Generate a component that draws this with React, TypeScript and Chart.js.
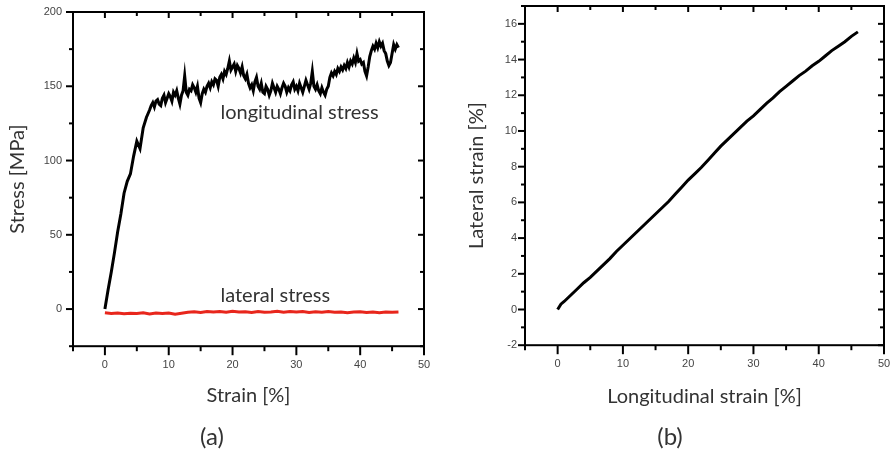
import React, { useEffect, useRef } from "react";
import { Chart, registerables } from "chart.js";
Chart.register(...registerables);

// ---------- (a) stress vs strain ----------
const longStrain = [0,0.5,1,1.5,2,2.5,3,3.5,4,4.5,5,5.5,6,6.5,
  7,7.25,7.5,7.75,8,8.25,8.5,8.75,9,9.25,9.5,9.75,10,10.25,10.5,10.75,
  11,11.25,11.5,11.75,12,12.25,12.5,12.75,13,13.25,13.5,13.75,14,14.25,14.5,14.75,
  15,15.25,15.5,15.75,16,16.25,16.5,16.75,17,17.25,17.5,17.75,18,18.25,18.5,18.75,
  19,19.25,19.5,19.75,20,20.25,20.5,20.75,21,21.25,21.5,21.75,22,22.25,22.5,22.75,
  23,23.25,23.5,23.75,24,24.25,24.5,24.75,25,25.25,25.5,25.75,26,26.25,26.5,26.75,
  27,27.25,27.5,27.75,28,28.25,28.5,28.75,29,29.25,29.5,29.75,30,30.25,30.5,30.75,
  31,31.25,31.5,31.75,32,32.25,32.5,32.75,33,33.25,33.5,33.75,34,34.25,34.5,34.75,
  35,35.25,35.5,35.75,36,36.25,36.5,36.75,37,37.25,37.5,37.75,38,38.25,38.5,38.75,
  39,39.25,39.5,39.75,40,40.25,40.5,40.75,41,41.25,41.5,41.75,42,42.25,42.5,42.75,
  43,43.25,43.5,43.75,44,44.25,44.5,44.75,45,45.25,45.5,45.75,46];
const longStress = [0,13,25,38,52,64,78,86,91,103,113,108,122,129,
  134,137,139,136,140,141,138,137,142,144,139,142,145,143,140,146,
  144,147,142,138,144,147,157,146,144,148,147,151,149,146,150,142,
  139,145,148,146,150,152,149,153,151,155,154,150,156,158,155,160,
  158,162,167,161,163,165,160,164,162,159,163,157,155,158,152,149,
  151,147,153,156,150,148,152,146,145,150,148,144,147,152,149,146,
  150,148,145,149,152,150,146,149,147,151,153,148,150,147,152,149,
  146,150,154,151,148,152,160,150,148,151,147,145,149,146,144,148,
  150,156,159,157,160,158,162,160,163,161,164,162,166,163,167,165,
  169,166,172,167,168,165,166,160,157,163,170,174,177,175,179,176,
  180,177,179,174,172,167,164,166,172,178,175,178,176];
const latStrainA = [0,1,2,3,4,5,6,7,8,9,10,11,12,13,14,15,16,17,18,19,20,21,22,23,24,25,26,27,28,29,30,31,32,33,34,35,36,37,38,39,40,41,42,43,44,45,46];
const latStress = [-2.5,-3,-2.6,-3.2,-2.8,-3,-2.5,-3.3,-2.7,-3,
  -2.6,-3.4,-2.8,-2.2,-1.8,-2.3,-1.6,-2,-1.7,-2.2,
  -1.5,-2,-1.8,-2.3,-1.6,-2.1,-1.9,-1.5,-2.2,-1.7,
  -2,-1.6,-2.3,-1.8,-2.1,-1.6,-2.2,-1.9,-2.4,-2,
  -1.8,-2.3,-2,-2.4,-1.9,-2.2,-2];

// ---------- (b) lateral vs longitudinal strain ----------
const longStrainB = [0,0.5,1,2,3,4,5,6,7,8,9,10,11,12,13,14,15,16,17,18,19,20,21,22,23,24,25,26,27,28,29,30,31,32,33,34,35,36,37,38,39,40,41,42,43,44,45,46];
const latStrainB = [0,0.3,0.45,0.8,1.15,1.5,1.8,2.15,2.5,2.85,3.25,3.6,3.95,4.3,4.65,5.0,5.35,5.7,6.05,6.45,6.85,7.25,7.6,7.95,8.35,8.75,9.15,9.5,9.85,10.2,10.55,10.85,11.2,11.55,11.85,12.2,12.5,12.8,13.1,13.35,13.65,13.9,14.2,14.5,14.75,15.0,15.3,15.55];

// ---------- ticks ----------
const xMajorA = [0, 10, 20, 30, 40, 50];
const xMinorA = [-5, 5, 15, 25, 35, 45];
const yMajorA = [0, 50, 100, 150, 200];
const yMinorA = [-25, 25, 75, 125, 175];
const xMajorB = [0, 10, 20, 30, 40, 50];
const xMinorB = [-5, 5, 15, 25, 35, 45];
const yMajorB = [-2, 0, 2, 4, 6, 8, 10, 12, 14, 16];
const yMinorB = [-1, 1, 3, 5, 7, 9, 11, 13, 15, 17];

// ---------- annotations in (a) ----------
const annotTextA = ["longitudinal stress", "lateral stress"];
const annotXA = [18.1, 18.1];
const annotYA = [132.6, 9.4];

const TITLE_FONT = "Lato, 'Open Sans', sans-serif";
const TICK_FONT = "'Liberation Sans', Arial, sans-serif";

function framePlugin(xMajor: number[], xMinor: number[], yMajor: number[], yMinor: number[]) {
  return {
    id: "frameTicks",
    afterDraw(chart: any) {
      const { ctx, chartArea: a, scales } = chart;
      const xs = scales.x, ys = scales.y;
      ctx.save();
      ctx.strokeStyle = "#000";
      ctx.lineWidth = 2;
      ctx.strokeRect(a.left, a.top, a.right - a.left, a.bottom - a.top);
      const line = (x1: number, y1: number, x2: number, y2: number) => {
        ctx.beginPath(); ctx.moveTo(x1, y1); ctx.lineTo(x2, y2); ctx.stroke();
      };
      const xt = (vals: number[], out: number, inn: number) => vals.forEach((v) => {
        const p = xs.getPixelForValue(v);
        line(p, a.bottom, p, a.bottom + out);
        line(p, a.top, p, a.top + inn);
      });
      xt(xMajor, 9, 6); xt(xMinor, 5, 4);
      const yt = (vals: number[], out: number, inn: number) => vals.forEach((v) => {
        const p = ys.getPixelForValue(v);
        line(a.left, p, a.left - out, p);
        line(a.right, p, a.right - inn, p);
      });
      yt(yMajor, 7, 6); yt(yMinor, 4, 4);
      ctx.restore();
    },
  };
}

function labelPlugin(texts: string[], xv: number[], yv: number[]) {
  return {
    id: "annot",
    afterDatasetsDraw(chart: any) {
      const { ctx, scales } = chart;
      ctx.save();
      ctx.font = `20px ${TITLE_FONT}`;
      ctx.fillStyle = "#333";
      ctx.textAlign = "left";
      ctx.textBaseline = "middle";
      texts.forEach((t, i) => {
        ctx.fillText(t, scales.x.getPixelForValue(xv[i]), scales.y.getPixelForValue(yv[i]));
      });
      ctx.restore();
    },
  };
}

function pts(xs: number[], ys: number[]) {
  return xs.map((x, i) => ({ x, y: ys[i] }));
}

function axisX(title: string, height: number) {
  return {
    type: "linear", min: -5, max: 50,
    grid: { display: false, drawTicks: false }, border: { display: false },
    ticks: {
      stepSize: 5, autoSkip: false, padding: 12, maxRotation: 0, color: "#444",
      font: { family: TICK_FONT, size: 11 },
      callback: (v: any) => (Number(v) % 10 === 0 ? String(v) : ""),
    },
    title: { display: true, text: title, color: "#333", font: { family: TITLE_FONT, size: 20 }, padding: { top: 0, bottom: 0 } },
    afterFit: (s: any) => { s.height = height; s.paddingLeft = 0; s.paddingRight = 0; },
  };
}

function configA() {
  return {
    type: "scatter",
    data: {
      datasets: [
        { data: pts(longStrain, longStress), showLine: true, borderColor: "#000", borderWidth: 3, pointRadius: 0, tension: 0, borderJoinStyle: "miter" },
        { data: pts(latStrainA, latStress), showLine: true, borderColor: "#e8261c", borderWidth: 3, pointRadius: 0, tension: 0 },
      ],
    },
    options: {
      animation: false, responsive: false, devicePixelRatio: 1,
      layout: { padding: { left: 0, right: 6, top: 12, bottom: 0 } },
      scales: {
        x: axisX("Strain [%]", 61),
        y: {
          type: "linear", min: -25, max: 200,
          grid: { display: false, drawTicks: false }, border: { display: false },
          ticks: {
            stepSize: 25, autoSkip: false, padding: 11, color: "#444",
            font: { family: TICK_FONT, size: 11 },
            callback: (v: any) => (Number(v) % 50 === 0 && Number(v) >= 0 ? String(v) : ""),
          },
          title: { display: true, text: "Stress [MPa]", color: "#333", font: { family: TITLE_FONT, size: 20 }, padding: { top: 6, bottom: 0 } },
          afterFit: (s: any) => { s.width = 73; s.paddingTop = 0; s.paddingBottom = 0; },
        },
      },
      plugins: {
        legend: { display: false },
        tooltip: { enabled: false },
        title: { display: true, text: "(a)", position: "bottom", color: "#333", font: { family: TITLE_FONT, size: 24, weight: "normal" }, padding: { top: 16, bottom: 2 } },
      },
    },
    plugins: [framePlugin(xMajorA, xMinorA, yMajorA, yMinorA), labelPlugin(annotTextA, annotXA, annotYA)],
  };
}

function configB() {
  return {
    type: "scatter",
    data: {
      datasets: [
        { data: pts(longStrainB, latStrainB), showLine: true, borderColor: "#000", borderWidth: 3, pointRadius: 0, tension: 0 },
      ],
    },
    options: {
      animation: false, responsive: false, devicePixelRatio: 1,
      layout: { padding: { left: 0, right: 10, top: 6, bottom: 0 } },
      scales: {
        x: axisX("Longitudinal strain [%]", 63),
        y: {
          type: "linear", min: -2, max: 17,
          grid: { display: false, drawTicks: false }, border: { display: false },
          ticks: {
            stepSize: 1, autoSkip: false, padding: 8, color: "#444",
            font: { family: TICK_FONT, size: 11 },
            callback: (v: any) => (Number(v) % 2 === 0 ? String(v) : ""),
          },
          title: { display: true, text: "Lateral strain [%]", color: "#333", font: { family: TITLE_FONT, size: 20 }, padding: { top: 9, bottom: 0 } },
          afterFit: (s: any) => { s.width = 69; s.paddingTop = 0; s.paddingBottom = 0; },
        },
      },
      plugins: {
        legend: { display: false },
        tooltip: { enabled: false },
        title: { display: true, text: "(b)", position: "bottom", color: "#333", font: { family: TITLE_FONT, size: 24, weight: "normal" }, padding: { top: 15, bottom: 2 } },
      },
    },
    plugins: [framePlugin(xMajorB, xMinorB, yMajorB, yMinorB)],
  };
}

function ChartCanvas({ make, left, width }: { make: () => any; left: number; width: number }) {
  const ref = useRef<HTMLCanvasElement>(null);
  useEffect(() => {
    const c = new Chart(ref.current as HTMLCanvasElement, make());
    return () => c.destroy();
  }, []);
  return (
    <canvas ref={ref} width={width} height={454}
      style={{ position: "absolute", left, top: 0, width, height: 454 }} />
  );
}

export default function App() {
  return (
    <div style={{ position: "absolute", left: 0, top: 0, width: 894, height: 454, background: "#fff", overflow: "hidden" }}>
      <ChartCanvas make={configA} left={0} width={430} />
      <ChartCanvas make={configB} left={456} width={438} />
    </div>
  );
}
